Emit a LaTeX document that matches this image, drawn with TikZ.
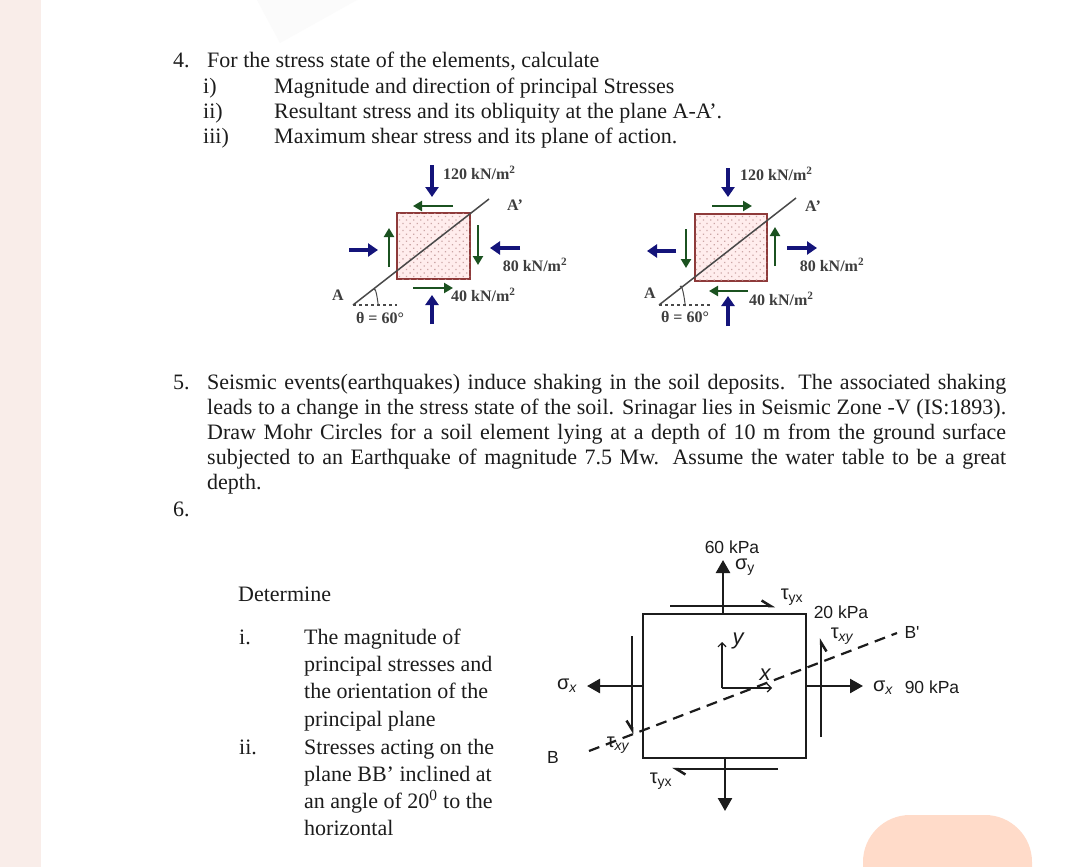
\documentclass[tikz,border=0pt]{standalone}
\usepackage{fontspec}
\setmainfont{Liberation Serif}
\newfontfamily\labelfont{Liberation Sans}
\usetikzlibrary{arrows.meta,patterns.meta}
\definecolor{bandpink}{HTML}{F9EDE9}
\definecolor{peach}{HTML}{FFDBC9}
\definecolor{ink}{HTML}{1C1C1C}
\definecolor{stressblue}{HTML}{14147A}
\definecolor{sheargreen}{HTML}{1B5220}
\definecolor{boxred}{HTML}{8E3A3A}
\tikzset{
  body/.style={anchor=base west,inner sep=0pt,text=ink,font=\fontsize{22}{25}\selectfont},
  small/.style={inner sep=0pt,text=ink!85,font=\fontsize{16}{18}\selectfont\bfseries},
  kpa/.style={inner sep=0pt,text=ink,font=\fontsize{17.5}{20}\selectfont\labelfont},
  greek/.style={inner sep=0pt,text=ink,font=\fontsize{20}{20}\selectfont\labelfont},
  bluearrow/.style={draw=stressblue,line width=3.4pt,-{Triangle[length=10pt,width=13pt]}},
  greenarrow/.style={draw=sheargreen,line width=2.4pt,-{Triangle[length=9pt,width=10pt]}},
  element/.style={draw=boxred,line width=2pt,fill=red!7,postaction={pattern={Dots[distance=5pt,radius=0.9pt,angle=45]},pattern color=boxred!45}},
  plane/.style={draw=ink!80,line width=1.5pt},
  thick line/.style={draw=ink,line width=2.5pt},
  normal/.style={thick line,-{Triangle[length=13pt,width=14pt]}},
  shear left/.style={thick line,-{Straight Barb[left,length=9pt,width=11pt]}},
  shear right/.style={thick line,-{Straight Barb[right,length=9pt,width=11pt]}},
}
\newcommand{\fitline}[1]{\makebox[799pt][s]{#1}}
\newcommand{\stresslab}[2]{#1\textsubscript{\fontsize{14}{14}\selectfont #2}}
\begin{document}
\begin{tikzpicture}[x=1pt,y=-1pt]
\useasboundingbox (0,0) rectangle (1079,867);
\fill[white] (0,0) rectangle (1079,867);
\fill[bandpink] (0,0) rectangle (41,867);
\fill[black!1.5] (257,0) -- (280,43) -- (357,0) -- cycle;
\begin{scope}
\clip (0,0) rectangle (1079,867);
\fill[peach,rounded corners=47pt] (863,815) rectangle (1032,950);
\end{scope}
% question 4
\node[body] (q4) at (173,67) {4.};
\node[body] (q4a) at (207,67) {For the stress state of the elements, calculate};
\node[body] (q4i) at (203,93) {i)};
\node[body] (q4ia) at (274,93) {Magnitude and direction of principal Stresses};
\node[body] (q4ii) at (203,118) {ii)};
\node[body] (q4iia) at (274,118) {Resultant stress and its obliquity at the plane A-A’.};
\node[body] (q4iii) at (203,143) {iii)};
\node[body] (q4iiia) at (274,143) {Maximum shear stress and its plane of action.};
% left element
\node[element,minimum width=73pt,minimum height=66pt,inner sep=0pt] (boxa) at (433.5,246) {};
\coordinate (aA) at (353,305);
\coordinate (aB) at (489,199);
\coordinate (aD) at (397,305);
\coordinate (aP) at (374,290);
\coordinate (aQ) at (378,305);
\draw[plane] (aA) -- (aB);
\draw[plane,dashed] (aA) -- (aD);
\draw[plane,line width=1pt] (aP) to[out=70,in=-80] (aQ);
\draw[bluearrow] (432,165) -- (432,197);
\draw[bluearrow] (432,324) -- (432,295);
\draw[bluearrow] (349,250) -- (378,250);
\draw[bluearrow] (520,248) -- (490,248);
\draw[greenarrow] (453,206) -- (413,206);
\draw[greenarrow] (413,288) -- (453,288);
\draw[greenarrow] (389,267) -- (389,228);
\draw[greenarrow] (478,225) -- (478,265);
\node[small,anchor=west] (a120) at (443,173) {120 kN/m\textsuperscript{2}};
\node[small] (aAp) at (515,205) {A'};
\node[small] (a80) at (535,265) {80 kN/m\textsuperscript{2}};
\node[small,anchor=west] (a40) at (451,295) {40 kN/m\textsuperscript{2}};
\node[small] (aAl) at (338,295) {A};
\node[small] (ath) at (380,318) {θ = 60°};
% right element
\node[element,minimum width=72pt,minimum height=67pt,inner sep=0pt] (boxb) at (731,247.5) {};
\coordinate (bA) at (659,305);
\coordinate (bB) at (796,198);
\coordinate (bD) at (710,305);
\coordinate (bP) at (680,287);
\coordinate (bQ) at (685,305);
\draw[plane] (bA) -- (bB);
\draw[plane,dashed] (bA) -- (bD);
\draw[plane,line width=1pt] (bP) to[out=70,in=-80] (bQ);
\draw[bluearrow] (728,168) -- (728,197);
\draw[bluearrow] (728,326) -- (728,296);
\draw[bluearrow] (676,251) -- (647,251);
\draw[bluearrow] (787,248) -- (817,248);
\draw[greenarrow] (712,206) -- (752,206);
\draw[greenarrow] (748,291) -- (709,291);
\draw[greenarrow] (686,229) -- (686,268);
\draw[greenarrow] (775,266) -- (775,227);
\node[small,anchor=west] (b120) at (740,174) {120 kN/m\textsuperscript{2}};
\node[small] (bAp) at (813,206) {A'};
\node[small] (b80) at (832,265) {80 kN/m\textsuperscript{2}};
\node[small,anchor=west] (b40) at (749,299) {40 kN/m\textsuperscript{2}};
\node[small] (bAl) at (650,293) {A};
\node[small] (bth) at (685,317) {θ = 60°};
% question 5
\node[body] (q5) at (173,389) {5.};
\node[body] (q5a) at (207,389) {\fitline{Seismic events(earthquakes) induce shaking in the soil deposits. The associated shaking}};
\node[body] (q5b) at (207,414) {\fitline{leads to a change in the stress state of the soil. Srinagar lies in Seismic Zone -V (IS:1893).}};
\node[body] (q5c) at (207,439) {\fitline{Draw Mohr Circles for a soil element lying at a depth of 10 m from the ground surface}};
\node[body] (q5d) at (207,464) {\fitline{subjected to an Earthquake of magnitude 7.5 Mw. Assume the water table to be a great}};
\node[body] (q5e) at (207,489) {depth.};
\node[body] (q6) at (173,516) {6.};
% question 6 text
\node[body] (det) at (238,601) {Determine};
\node[body] (q6i) at (239,644) {i.};
\node[body] (q6ia) at (304,644) {The magnitude of};
\node[body] (q6ib) at (304,671) {principal stresses and};
\node[body] (q6ic) at (304,698) {the orientation of the};
\node[body] (q6id) at (304,726) {principal plane};
\node[body] (q6ii) at (239,754) {ii.};
\node[body] (q6iia) at (304,754) {Stresses acting on the};
\node[body] (q6iib) at (304,781) {plane BB’ inclined at};
\node[body] (q6iic) at (304,808) {an angle of 20\textsuperscript{0} to the};
\node[body] (q6iid) at (304,835) {horizontal};
% stress block
\node[draw=ink,line width=2.5pt,minimum width=163pt,minimum height=144pt,inner sep=0pt] (block) at (724.5,686) {};
\coordinate (top) at (723,560);
\coordinate (bot) at (725,811);
\coordinate (lft) at (587,686);
\coordinate (rgt) at (863,686);
\coordinate (org) at (722,688);
\coordinate (ytip) at (722,642);
\coordinate (xtip) at (772,688);
\coordinate (B) at (589,751);
\coordinate (Bp) at (897,633);
\draw[normal] (723,614) -- (top);
\draw[normal] (725,758) -- (bot);
\draw[normal] (643,686) -- (lft);
\draw[normal] (806,686) -- (rgt);
\draw[shear left] (670,606) -- (775,606);
\draw[shear left] (778,769) -- (672,769);
\draw[shear right] (632,636) -- (632,734);
\draw[shear right] (821,737) -- (821,638);
\draw[ink,line width=1.2pt,-{Straight Barb[length=4pt,width=8pt]}] (org) -- (ytip);
\draw[ink,line width=1.2pt,-{Straight Barb[length=4pt,width=8pt]}] (org) -- (xtip);
\draw[ink,line width=2.2pt,dash pattern=on 11pt off 7pt] (B) -- (Bp);
\node[kpa] (k60) at (732,547) {60 kPa};
\node[greek] (sy) at (745,567) {\stresslab{σ}{y}};
\node[greek] (tyxa) at (792,597) {\stresslab{τ}{yx}};
\node[kpa] (k20) at (841,612) {20 kPa};
\node[greek] (txya) at (842,636) {\stresslab{τ}{\itshape xy}};
\node[kpa] (Bpl) at (912,632) {B'};
\node[greek] (sxl) at (567,686) {\stresslab{σ}{\itshape x}};
\node[greek] (sxr) at (883,688) {\stresslab{σ}{\itshape x}};
\node[kpa] (k90) at (932,687) {90 kPa};
\node[kpa] (Bl) at (553,757) {B};
\node[greek] (txyb) at (618,745) {\stresslab{τ}{\itshape xy}};
\node[greek] (tyxb) at (661,781) {\stresslab{τ}{yx}};
\node[kpa,font=\fontsize{22}{24}\selectfont\labelfont\itshape] (ylab) at (738,641) {y};
\node[kpa,font=\fontsize{22}{24}\selectfont\labelfont\itshape] (xlab) at (765,675) {x};
\end{tikzpicture}
\end{document}
